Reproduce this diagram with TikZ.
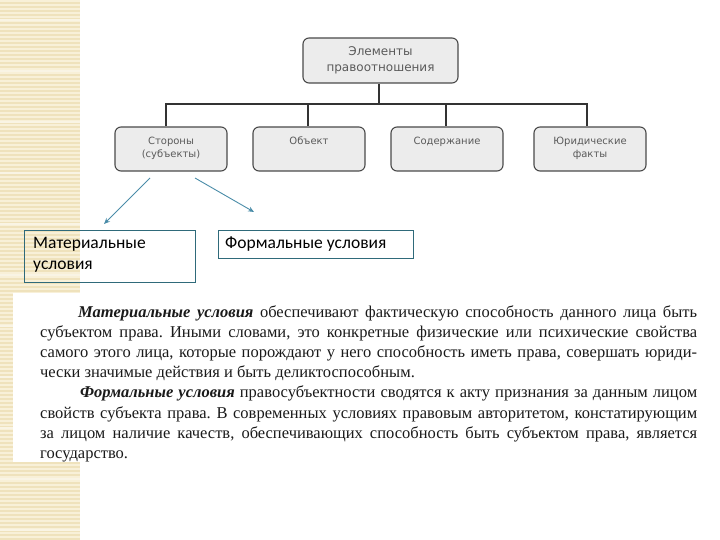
\documentclass[tikz,border=0pt]{standalone}
\usepackage{fontspec}
\usepackage{graphicx}
\setmainfont{Liberation Serif}
\newfontfamily\boxfont{DejaVu Sans}
\newfontfamily\calfont{Carlito}
\usetikzlibrary{arrows.meta}
\definecolor{beige}{HTML}{EFE2BC}
\definecolor{beigeline}{HTML}{F8F0D8}
\definecolor{boxfill}{HTML}{ECECEC}
\definecolor{boxdraw}{HTML}{4A4A4A}
\definecolor{boxtext}{HTML}{5A5A5A}
\definecolor{tealbox}{HTML}{2F6A7A}
\definecolor{arrowc}{HTML}{4A8CA8}
\definecolor{bodytext}{HTML}{1A1A1A}
\newlength\jlw
\newcommand\jline[2]{\settowidth\jlw{#2}\ifdim\jlw>#1\relax\resizebox{#1}{\height}{#2}\else\makebox[#1][s]{#2}\fi}
\tikzset{
  orgbox/.style={draw=boxdraw, fill=boxfill, line width=1.1pt, rounded corners=6pt,
    minimum width=112pt, minimum height=44pt, inner sep=0pt},
  boxlbl/.style={text=boxtext, font=\boxfont\fontsize{10}{13}\selectfont, align=center, anchor=north},
  condbox/.style={draw=tealbox, line width=0.8pt, inner sep=0pt, anchor=north west},
  condlbl/.style={inner sep=0pt, font=\calfont\fontsize{17.5}{21}\selectfont, align=left},
  conn/.style={draw=black!80, line width=1.4pt},
  arr/.style={draw=arrowc, line width=0.9pt, -{Stealth[length=6pt,width=5pt]}},
  bodyline/.style={anchor=base west, inner sep=0pt, text=bodytext, font=\frenchspacing\fontsize{16.5}{19.7}\selectfont},
}
\begin{document}
\begin{tikzpicture}[x=1pt,y=-1pt]
\useasboundingbox (0,0) rectangle (720,540);
% striped left band
\fill[beige] (0,0) rectangle (80,540);
\foreach \yy in {1,5,...,540} { \draw[beigeline, line width=1.3pt] (0,\yy) -- (80,\yy); }
\foreach \yy in {20,71,...,540} { \draw[white!60!beige, line width=2pt] (0,\yy) -- (80,\yy); }
% white panel behind text
\fill[white] (13,293) rectangle (700,462);

% top box
\node[orgbox, minimum width=155pt, minimum height=45pt] (top) at (380.5,60.5) {};
\node[text=boxtext, font=\boxfont\fontsize{12}{16}\selectfont, align=center, anchor=center] (toplbl) at (380.5,60) {Элементы\\правоотношения};

% lower boxes
\node[orgbox] (s1) at (171,149) {};
\node[orgbox] (s2) at (309,149) {};
\node[orgbox] (s3) at (447,149) {};
\node[orgbox] (s4) at (590,149) {};
\node[boxlbl] (l1) at (171,133.5) {Стороны\\(субъекты)};
\node[boxlbl] (l2) at (309,133.5) {Объект};
\node[boxlbl] (l3) at (447,133.5) {Содержание};
\node[boxlbl] (l4) at (590,133.5) {Юридические\\факты};

% connectors
\coordinate (bus) at (0,104);
\draw[conn] ([xshift=-1.5pt]top.south) -- ([xshift=-1.5pt]top.south |- bus);
\draw[conn] ([xshift=-5pt]s1.north) |- ([xshift=-3pt]s4.north |- bus) -- ([xshift=-3pt]s4.north);
\draw[conn] ([xshift=-1pt]s2.north |- bus) -- ([xshift=-1pt]s2.north);
\draw[conn] ([xshift=-1pt]s3.north |- bus) -- ([xshift=-1pt]s3.north);

% condition boxes
\node[condbox, minimum width=171pt, minimum height=52pt] (mat) at (24,230) {};
\node[condlbl, anchor=north west] (matlbl) at (33,237) {Материальные\\условия};
\node[condbox, minimum width=195pt, minimum height=28pt] (form) at (218,230) {};
\node[condlbl, anchor=west] (formlbl) at (225,244.5) {Формальные условия};

% arrows
\coordinate (a1s) at (150,178);
\coordinate (a1e) at (104,224);
\coordinate (a2s) at (195,178);
\coordinate (a2e) at (254,212);
\draw[arr] (a1s) -- (a1e);
\draw[arr] (a2s) -- (a2e);

% body text
\node[bodyline] (b1) at (78,317.5) {\jline{619pt}{\textbf{\textit{Материальные условия}} обеспечивают фактическую способность данного лица быть}};
\node[bodyline] (b2) at (40,337.6) {\jline{657pt}{субъектом права. Иными словами, это конкретные физические или психические свойства}};
\node[bodyline] (b3) at (40,357.7) {\jline{657pt}{самого этого лица, которые порождают у него способность иметь права, совершать юриди-}};
\node[bodyline] (b4) at (40,377.8) {чески значимые действия и быть деликтоспособным.};
\node[bodyline] (b5) at (80,397.9) {\jline{617pt}{\textbf{\textit{Формальные условия}} правосубъектности сводятся к акту признания за данным лицом}};
\node[bodyline] (b6) at (40,418) {\jline{657pt}{свойств субъекта права. В современных условиях правовым авторитетом, констатирующим}};
\node[bodyline] (b7) at (40,438.1) {\jline{657pt}{за лицом наличие качеств, обеспечивающих способность быть субъектом права, является}};
\node[bodyline] (b8) at (40,458.2) {государство.};
\end{tikzpicture}
\end{document}
